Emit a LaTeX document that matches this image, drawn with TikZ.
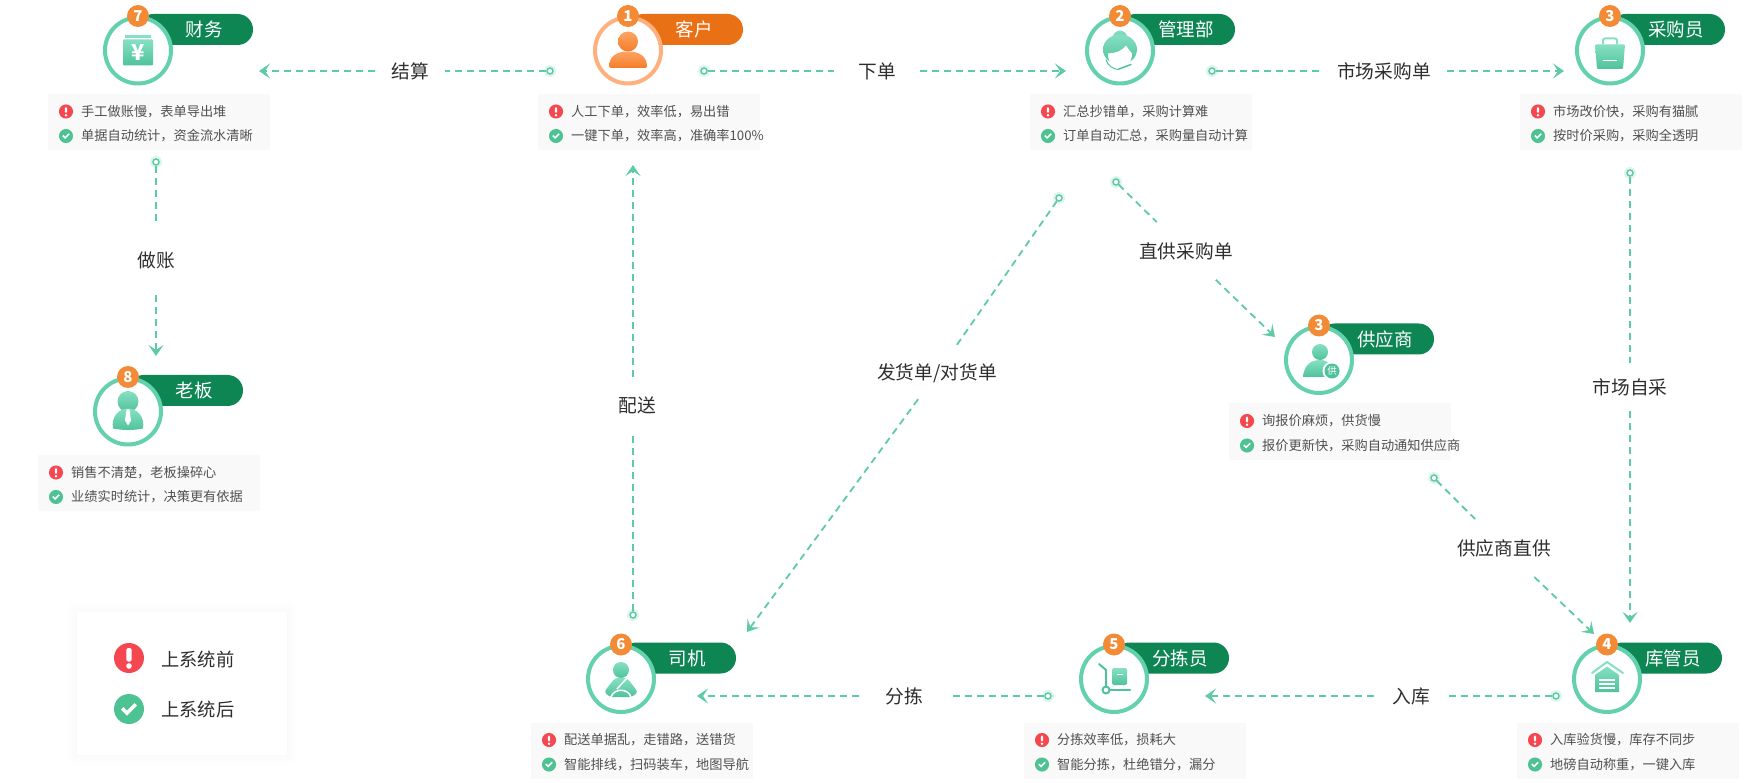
\documentclass[tikz,border=0pt]{standalone}
\usepackage{fontspec}
\setmainfont{Noto Sans CJK SC}
\usetikzlibrary{arrows.meta,shapes.misc}
\definecolor{pillgreen}{HTML}{0E8654}
\definecolor{pillorange}{HTML}{E97014}
\definecolor{ringgreen}{HTML}{62D1AC}
\definecolor{ringorange}{HTML}{FFB07F}
\definecolor{badgeorange}{HTML}{F28A36}
\definecolor{flowgreen}{HTML}{5FCBA6}
\definecolor{halogreen}{HTML}{DDF5EC}
\definecolor{iconhi}{HTML}{86E0C3}
\definecolor{iconlo}{HTML}{4FC29B}
\definecolor{custhi}{HTML}{FFA465}
\definecolor{custlo}{HTML}{F47C28}
\definecolor{badred}{HTML}{F4474F}
\definecolor{goodgreen}{HTML}{4DC293}
\definecolor{infogrey}{HTML}{F9F9F9}
\definecolor{infotext}{HTML}{505050}
\definecolor{flowtext}{HTML}{2E2E2E}
\tikzset{
  x=1pt,y=-1pt,
  pillbox/.style={rounded rectangle,fill=pillgreen,minimum width=115,minimum height=31,inner sep=0},
  ringbox/.style={circle,draw=ringgreen,fill=white,line width=4,minimum size=66,inner sep=0},
  orangerole/.style={pillbox/.append style={fill=pillorange},ringbox/.append style={draw=ringorange}},
  badgebox/.style={circle,fill=badgeorange,text=white,minimum size=22,inner sep=0,font=\fontsize{15}{15}\selectfont\bfseries},
  roletext/.style={text=white,inner sep=0,font=\fontsize{18.5}{18.5}\selectfont},
  infobox/.style={fill=infogrey,minimum width=222,minimum height=56,inner sep=0},
  infotxt/.style={anchor=west,text=infotext,inner sep=0,font=\fontsize{13.2}{13.2}\selectfont},
  flow/.style={draw=flowgreen,line width=1.8,dash pattern=on 7pt off 5pt},
  flowtip/.style={flow,-{Stealth[length=11pt,width=15pt,inset=5pt,flowgreen]}},
  flowlabel/.style={text=flowtext,inner xsep=16,inner ysep=16,font=\fontsize{18.7}{18.7}\selectfont},
  portdot/.style={circle,draw=flowgreen,fill=white,line width=1.5,minimum size=6,inner sep=0,
    preaction={draw=halogreen,line width=6}},
  iconfill/.style={top color=iconhi,bottom color=iconlo,draw=none},
  custfill/.style={top color=custhi,bottom color=custlo,draw=none},
  iconline/.style={draw=iconlo,line width=2,line cap=round,line join=round},
  badmark/.pic={
    \fill[badred] (0,0) circle (15);
    \fill[white,rounded corners=1.5] (-2.6,-10) rectangle (2.6,3.5);
    \fill[white] (0,8) circle (2.8);
  },
  goodmark/.pic={
    \fill[goodgreen] (0,0) circle (15);
    \fill[white] (-8,0.5) -- (-5.5,-2) -- (-2,1.5) -- (5.5,-6) -- (8,-3.5) -- (-2,6.5) -- cycle;
  },
  billicon/.pic={
    \fill[iconhi] (-13,-15) rectangle (13,-12.5);
    \path[iconfill,rounded corners=1] (-15,-11) rectangle (15,15);
    \node[text=white,inner sep=0,font=\fontsize{22}{22}\selectfont\bfseries] (yen) at (0,2) {¥};
  },
  custicon/.pic={
    \path[custfill] (0,-9) circle (10);
    \path[custfill,rounded corners=1.5] (-19,17.5) .. controls (-19,6) and (-11,1) .. (0,1)
      .. controls (11,1) and (19,6) .. (19,17.5) -- cycle;
  },
  girlicon/.pic={
    \path[iconfill] (0,-13) circle (7);
    \path[iconfill] (0,-1) ellipse (17 and 15);
    \fill[white] (-12,3) .. controls (-5,3) and (3,0) .. (6,-5) .. controls (8,-2) and (10,1) .. (12,3)
      .. controls (12,13) and (6,17) .. (0,17) .. controls (-6,17) and (-12,13) .. (-12,3) -- cycle;
    \draw[draw=iconlo,line width=1] (-14,9) .. controls (-12,16) and (-6,19) .. (-1,19);
    \draw[draw=iconlo,line width=1.5,line cap=round] (-1,18.5) -- (11,14);
  },
  bagicon/.pic={
    \draw[draw=iconhi,line width=2,rounded corners=2] (-7,-6) -- (-7,-12) -- (7,-12) -- (7,-6);
    \path[iconfill,rounded corners=1] (-15,-6) -- (15,-6) -- (13,18.5) -- (-13,18.5) -- cycle;
    \fill[white] (-7,9.5) rectangle (7,11);
  },
  bossicon/.pic={
    \path[iconfill] (0,-10) circle (10.5);
    \path[iconfill] (-15,17) .. controls (-17,5) and (-9,-3) .. (0,-3)
      .. controls (9,-3) and (17,5) .. (15,17) .. controls (5,19) and (-5,19) .. (-15,17) -- cycle;
    \fill[white] (-1.5,-2) -- (1.5,-2) -- (3,9) -- (0,14) -- (-3,9) -- cycle;
  },
  supicon/.pic={
    \path[iconfill] (1,-8) circle (8);
    \path[iconfill] (-16,17) .. controls (-15,6) and (-9,0) .. (1,0)
      .. controls (9,0) and (14,4) .. (14,17) -- cycle;
    \fill[white] (13,11) circle (9.5);
    \fill[iconlo] (13,11) circle (7.5);
    \node[text=white,inner sep=0,font=\fontsize{9.5}{9.5}\selectfont] (supmark) at (13,11) {供};
  },
  drivericon/.pic={
    \path[iconfill] (0,-9) circle (8);
    \path[iconfill,rounded corners=3] (-6,-1) -- (6,-1) -- (17,13) -- (11,18) -- (-11,18) -- (-17,13) -- cycle;
    \draw[draw=white,line width=1.5] (-10,18) .. controls (-7,9) and (7,9) .. (10,18);
    \draw[draw=white,line width=1.5] (6,-1) -- (-4,10);
  },
  carticon/.pic={
    \draw[iconline] (-15,-15) -- (-8,-9) -- (-8,7);
    \draw[iconline] (-4,11) -- (16,11);
    \draw[iconline,fill=white] (-8,11) circle (3.5);
    \path[iconfill,rounded corners=1.5] (-2,-11) rectangle (13,6);
    \fill[white] (2.5,-5.5) rectangle (8.5,-4);
  },
  houseicon/.pic={
    \draw[iconline,draw=iconhi] (-15,-6) -- (0,-17) -- (16,-6);
    \path[iconfill] (0,-12.5) -- (12,-4) -- (12,13) -- (-12,13) -- (-12,-4) -- cycle;
    \foreach \slity in {1,5,9} {\fill[white] (-8,\slity-0.6) rectangle (8,\slity+0.6);}
  },
}
% one role: pill, ring, number
\newcommand{\rolegroup}[6][]{%
  \begin{scope}[#1]
    \node[pillbox] (#2pill) at (#3+57.5,#4-21) {};
    \node[roletext] (#2text) at (#3+66,#4-21) {#6};
    \node[ringbox] (#2ring) at (#3,#4) {};
    \node[badgebox] (#2badge) at (#3,#4-34.5) {#5};
  \end{scope}
}
% grey box below a role
\newcommand{\infogroup}[5]{%
  \node[infobox] (#1info) at (#2+21,#3+71.5) {};
  \pic[scale=.47] at (#2-72,#3+61) {badmark};
  \pic[scale=.47] at (#2-72,#3+85.5) {goodmark};
  \node[infotxt] (#1bad) at (#2-57,#3+61) {#4};
  \node[infotxt] (#1good) at (#2-57,#3+85.5) {#5};
}
\begin{document}
\begin{tikzpicture}
  \path[use as bounding box,fill=white] (0,0) rectangle (1751,783);
  %Rollen
  \rolegroup{fin}{138}{50.5}{7}{财务}
  \rolegroup[orangerole]{cust}{628}{50.5}{1}{客户}
  \rolegroup{mgr}{1120}{50.5}{2}{管理部}
  \rolegroup{buy}{1610}{50.5}{3}{采购员}
  \rolegroup{sup}{1319}{360}{3}{供应商}
  \rolegroup{boss}{128}{411.5}{8}{老板}
  \rolegroup{drv}{621}{679}{6}{司机}
  \rolegroup{pick}{1114}{679}{5}{分拣员}
  \rolegroup{store}{1607}{679}{4}{库管员}
  %Symbole
  \pic at (138,50.5) {billicon};
  \pic at (628,50.5) {custicon};
  \pic at (1120,50.5) {girlicon};
  \pic at (1610,50.5) {bagicon};
  \pic at (1319,360) {supicon};
  \pic at (128,411.5) {bossicon};
  \pic at (621,679) {drivericon};
  \pic at (1114,679) {carticon};
  \pic at (1607,679) {houseicon};
  %Info
  \infogroup{fin}{138}{50.5}{手工做账慢，表单导出堆}{单据自动统计，资金流水清晰}
  \infogroup{cust}{628}{50.5}{人工下单，效率低，易出错}{一键下单，效率高，准确率100\%}
  \infogroup{mgr}{1120}{50.5}{汇总抄错单，采购计算难}{订单自动汇总，采购量自动计算}
  \infogroup{buy}{1610}{50.5}{市场改价快，采购有猫腻}{按时价采购，采购全透明}
  \infogroup{sup}{1319}{360}{询报价麻烦，供货慢}{报价更新快，采购自动通知供应商}
  \infogroup{boss}{128}{411.5}{销售不清楚，老板操碎心}{业绩实时统计，决策更有依据}
  \infogroup{drv}{621}{679}{配送单据乱，走错路，送错货}{智能排线，扫码装车，地图导航}
  \infogroup{pick}{1114}{679}{分拣效率低，损耗大}{智能分拣，杜绝错分，漏分}
  \infogroup{store}{1607}{679}{入库验货慢，库存不同步}{地磅自动称重，一键入库}
  %Punkte
  \node[portdot] (settledot) at (550,71) {};
  \node[portdot] (orderdot) at (704,71) {};
  \node[portdot] (marketdot) at (1212,71) {};
  \node[portdot] (bookdot) at (156,162) {};
  \node[portdot] (directdot) at (1116,182) {};
  \node[portdot] (shipdot) at (1059,198) {};
  \node[portdot] (selfdot) at (1630,173) {};
  \node[portdot] (supplydot) at (1434,478) {};
  \node[portdot] (deliverdot) at (633,615) {};
  \node[portdot] (sortdot) at (1048,696) {};
  \node[portdot] (indot) at (1556,696) {};
  %Pfeilspitzen
  \coordinate (settletip) at (259,71);
  \coordinate (ordertip) at (1066,71);
  \coordinate (markettip) at (1564,71);
  \coordinate (booktip) at (156,356);
  \coordinate (directtip) at (1275,337);
  \coordinate (shiptip) at (747,632);
  \coordinate (selftip) at (1630,623);
  \coordinate (supplytip) at (1594,634);
  \coordinate (delivertip) at (633,165);
  \coordinate (sorttip) at (697,696);
  \coordinate (intip) at (1205,696);
  %Beschriftung
  \node[flowlabel] (settle) at (410,71) {结算};
  \node[flowlabel,inner xsep=24] (order) at (877,71) {下单};
  \node[flowlabel] (market) at (1384,71) {市场采购单};
  \node[flowlabel,inner ysep=26] (book) at (156,260) {做账};
  \node[flowlabel,inner ysep=20] (direct) at (1186,251) {直供采购单};
  \node[flowlabel,inner ysep=16] (ship) at (937,373.5) {发货单/对货单};
  \node[flowlabel,inner ysep=19] (deliver) at (637,405) {配送};
  \node[flowlabel,inner ysep=15] (self) at (1630,387) {市场自采};
  \node[flowlabel,inner ysep=20] (supply) at (1504,548) {供应商直供};
  \node[flowlabel,inner xsep=26] (sort) at (904,696) {分拣};
  \node[flowlabel,inner xsep=18] (inward) at (1411,696) {入库};
  %Pfeile
  \draw[flow] (settledot) -- (settle);
  \draw[flowtip] (settle) -- (settletip);
  \draw[flow] (orderdot) -- (order);
  \draw[flowtip] (order) -- (ordertip);
  \draw[flow] (marketdot) -- (market);
  \draw[flowtip] (market) -- (markettip);
  \draw[flow] (bookdot) -- (book);
  \draw[flowtip] (book) -- (booktip);
  \draw[flow] (directdot) -- (direct);
  \draw[flowtip] (direct) -- (directtip);
  \draw[flow] (shipdot) -- (ship);
  \draw[flowtip] (ship) -- (shiptip);
  \draw[flow] (selfdot) -- (self);
  \draw[flowtip] (self) -- (selftip);
  \draw[flow] (supplydot) -- (supply);
  \draw[flowtip] (supply) -- (supplytip);
  \draw[flow] (deliverdot) -- (deliverdot |- deliver.south);
  \draw[flowtip] (deliverdot |- deliver.north) -- (delivertip);
  \draw[flow] (sortdot) -- (sort);
  \draw[flowtip] (sort) -- (sorttip);
  \draw[flow] (indot) -- (inward);
  \draw[flowtip] (inward) -- (intip);
  %Legende
  \foreach \spread in {9,7,5,3,1} {
    \fill[black,opacity=.005,rounded corners=3] (77-\spread,612-\spread) rectangle (287+\spread,755+\spread);
  }
  \node[fill=white,minimum width=210,minimum height=143,inner sep=0] (legend) at (182,683.5) {};
  \pic at (129,658) {badmark};
  \pic at (129,709) {goodmark};
  \node[anchor=west,text=flowtext,inner sep=0,font=\fontsize{18.3}{18.3}\selectfont] (legendbad) at (161,659) {上系统前};
  \node[anchor=west,text=flowtext,inner sep=0,font=\fontsize{18.3}{18.3}\selectfont] (legendgood) at (161,710) {上系统后};
\end{tikzpicture}
\end{document}
